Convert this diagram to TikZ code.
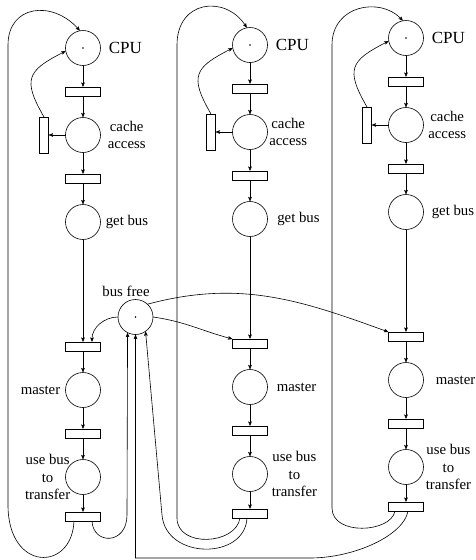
\documentclass[tikz,border=0pt]{standalone}
\usepackage{fontspec}
\setmainfont{Liberation Serif}
\usetikzlibrary{positioning, arrows.meta}
\tikzset{
  plc/.style={draw, circle, minimum size=35pt, inner sep=0pt, outer sep=0pt},
  trn/.style={draw, rectangle, minimum width=35pt, minimum height=9pt,
              inner sep=0pt, outer sep=0pt},
  vtrn/.style={trn, minimum width=9pt, minimum height=36pt},   % side transition
  txt/.style={font=\fontsize{14.8}{17.5}\selectfont, align=center, inner sep=0pt},
  arr/.style={-{Stealth[length=4.5pt, width=3.6pt, inset=0.8pt]}},
}

\begin{document}
\begin{tikzpicture}[x=1pt, y=1pt, line width=0.6pt, node distance=21.5pt]
  \useasboundingbox (0,0) rectangle (475,-560);
  % one processor per column
  \foreach \i/\x/\y/\cg/\gg in {1/83/48/7/5, 2/250/45/1.5/9.5, 3/406/38/4.5/8} {
    \node[plc](cpu\i) at (\x,-\y) {};
    \node[trn, below=of cpu\i](ta\i) {};
    \node[plc, below=of ta\i](cache\i) {};
    \node[vtrn, left=17pt of cache\i](side\i) {};
    \node[trn, below=of cache\i](tb\i) {};
    \node[plc, below=of tb\i](getbus\i) {};
    \node[trn, below=102.5pt of getbus\i](tc\i) {};
    \node[plc, below=of tc\i](master\i) {};
    \node[trn, below=of master\i](td\i) {};
    \node[plc, below=of td\i](usebus\i) {};
    \node[trn, below=17.5pt of usebus\i](te\i) {};
    \fill (cpu\i) circle (0.9pt);
    \node[txt, font=\fontsize{17}{19}\selectfont, right=8pt of cpu\i](cpulbl\i) {CPU};
    \node[txt, right=\cg pt of cache\i](cachelbl\i) {cache\\access};
    \node[txt, right=\gg pt of getbus\i](getbuslbl\i) {get bus};
    \draw[arr](cpu\i)--(ta\i); \draw[arr](ta\i)--(cache\i); \draw[arr](cache\i)--(tb\i);
    \draw[arr](tb\i)--(getbus\i); \draw[arr](getbus\i)--(tc\i); \draw[arr](tc\i)--(master\i);
    \draw[arr](master\i)--(td\i); \draw[arr](td\i)--(usebus\i); \draw[arr](usebus\i)--(te\i);
    \draw[arr](cache\i)--(side\i);
    \draw[arr](side\i.north) to[out=120, in=207, looseness=1.6] (cpu\i.190);
  }
  \node[txt, left=5pt of master1](masterlbl1) {master};
  \node[txt, right=9pt of master2](masterlbl2) {master};
  \node[txt, right=12pt of master3](masterlbl3) {master};
  \node[txt, left=-5pt of usebus1](usebuslbl1) {use bus\\to\\transfer};
  \node[txt, right=4pt of usebus2](usebuslbl2) {use bus\\to\\transfer};
  \node[txt, right=2pt of usebus3](usebuslbl3) {use bus\\to\\transfer};

  % shared bus
  \node[plc](busfree) at (135.5,-317) {};
  \fill (busfree) circle (0.9pt);
  \node[txt, above=2.5pt of busfree, xshift=-9.5pt](busfreelbl) {bus free};

  % back to the CPU places
  \draw[arr]([xshift=8.5pt]te1.south west) .. controls (72,-572) and (8,-572) .. (8,-505)
    -- (8,-45) .. controls (8,-5) and (52,0) .. (cpu1.100);
  \draw[arr]([xshift=-10pt]te2.south) .. controls (236,-545) and (177,-548) .. (177,-518)
    -- (177,-45) .. controls (177,0) and (225,5) .. (cpu2.100);
  \draw[arr]([xshift=-11pt]te3.south) .. controls (391,-533) and (332,-536) .. (332,-508)
    -- (332,-45) .. controls (332,-5) and (380,3) .. (cpu3.100);

  % releasing the bus
  \draw[arr]([xshift=-8.5pt]te1.south east) .. controls (93,-545) and (127,-545) .. (127,-515)
    -- (busfree.243);
  \draw[arr]([xshift=-3pt]te2.south) .. controls (245,-560) and (166,-560) .. (162,-515)
    -- (busfree.-55);
  \draw[arr]([xshift=2pt]te3.south) .. controls (404,-535) and (355,-558) .. (310,-558)
    -| (busfree.south);

  % taking the bus
  \draw[arr](busfree.west) to[out=180, in=90] ([xshift=-8.5pt]tc1.north east);
  \draw[arr](busfree.east) to[out=-8, in=165] (tc2.north west);
  \draw[arr](busfree.47) to[out=15, in=160] (tc3.north west);
\end{tikzpicture}
\end{document}
